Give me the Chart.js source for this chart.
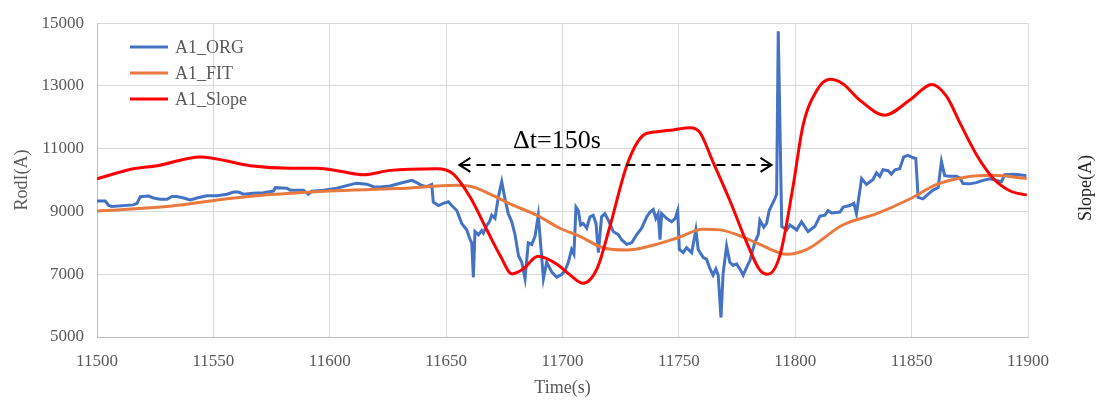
<!DOCTYPE html>
<html>
<head>
<meta charset="utf-8">
<script src="https://cdn.jsdelivr.net/npm/chart.js@4.4.1/dist/chart.umd.min.js"></script>
<style>
  html, body { margin: 0; padding: 0; background: #fff; }
  #wrap { width: 1104px; height: 405px; position: relative; }
</style>
</head>
<body>
<div id="wrap"><canvas id="chart"></canvas></div>
<script>
// A1_ORG (raw current)
const orgTime = [
  11500, 11503.6, 11505, 11506.4, 11515.6, 11517.2, 11518.6, 11522.2, 11524.3, 11527.2,
  11530.1, 11532.2, 11534.3, 11537.2, 11540.1, 11542.9, 11547.2, 11551.5, 11555.8, 11558.7,
  11560.8, 11562.9, 11567.2, 11571.5, 11575.8, 11576.6, 11581.6, 11583, 11588.7, 11590.8,
  11592.3, 11597.3, 11603, 11610.2, 11611.6, 11615.9, 11618.8, 11621.6, 11625.9, 11630.2,
  11635.3, 11637.4, 11639.5, 11641.7, 11643.8, 11644.5, 11646.7, 11648.8, 11651, 11652.4,
  11654.6, 11656.7, 11658.9, 11660.3, 11661, 11661.7, 11662.4, 11663.9, 11665.3, 11666,
  11667.5, 11668.6, 11669.6, 11671, 11672.4, 11673.9, 11675.3, 11676.7, 11678.2, 11679.6,
  11681.1, 11682.5, 11683.9, 11685.3, 11686.8, 11688.2, 11689.6, 11690.8, 11691.8, 11693.2,
  11695.4, 11697.5, 11699.7, 11701.1, 11702.5, 11703.9, 11704.9, 11705.8, 11706.8, 11707.8,
  11708.9, 11710.4, 11711.8, 11713.2, 11714.4, 11715.4, 11716.8, 11718.2, 11719.7, 11721.8,
  11724, 11725.4, 11727.6, 11729.7, 11731.9, 11734, 11736.2, 11737.6, 11739, 11740.1,
  11741.1, 11741.9, 11742.6, 11744.7, 11746.9, 11748.4, 11749.5, 11750.2, 11751.9, 11753.3,
  11755.5, 11757.3, 11758.3, 11760.5, 11761.9, 11763.4, 11764.7, 11765.9, 11766.9, 11768.1,
  11769, 11770.5, 11771.9, 11773.3, 11774.8, 11776.2, 11777.6, 11779.1, 11780.5, 11782.6,
  11784.1, 11784.8, 11786.5, 11787.7, 11788.8, 11791.2, 11792, 11792.7, 11794.2, 11796.3,
  11797.7, 11800.6, 11802.7, 11805.5, 11808.4, 11810.6, 11812.7, 11814.1, 11815.6, 11819.2,
  11820.6, 11823.5, 11825.2, 11826.3, 11828.5, 11830.6, 11833.4, 11834.9, 11836.3, 11837.7,
  11839.9, 11841.3, 11842.8, 11844.9, 11846.6, 11848.5, 11850.6, 11851.8, 11852.8, 11854.9,
  11857.1, 11859.2, 11861.4, 11862.8, 11864.2, 11866.4, 11869.3, 11870.7, 11872.1, 11875,
  11877.8, 11880.7, 11883.6, 11886.4, 11888.6, 11890, 11893.6, 11896.5, 11899.3
];
const orgValue = [
  9330, 9330, 9190, 9160, 9210, 9260, 9470, 9490, 9430, 9390,
  9390, 9480, 9480, 9430, 9370, 9430, 9500, 9500, 9550, 9620,
  9620, 9550, 9580, 9600, 9650, 9760, 9740, 9680, 9680, 9550,
  9650, 9680, 9740, 9880, 9900, 9870, 9790, 9780, 9810, 9900,
  9990, 9920, 9830, 9790, 9860, 9300, 9190, 9260, 9310, 9190,
  9030, 8620, 8410, 8100, 8000, 6900, 8360, 8260, 8390, 8310,
  8570, 8670, 8880, 8780, 9450, 9950, 9400, 8930, 8670, 8260,
  7590, 7380, 6860, 8000, 7950, 8210, 8880, 7790, 6860, 7380,
  7070, 6910, 6990, 7120, 7380, 7790, 7640, 9140, 9030, 8570,
  8620, 8470, 8830, 8880, 8620, 7690, 8830, 8930, 8720, 8360,
  8260, 8100, 7950, 8000, 8260, 8470, 8830, 8980, 9060, 8780,
  8930, 8100, 8930, 8780, 8670, 8780, 9030, 7790, 7690, 7850,
  7690, 8410, 7790, 7530, 7480, 7170, 6970, 7170, 6970, 5620,
  7020, 7900, 7380, 7280, 7330, 7170, 6970, 7220, 7430, 8000,
  8260, 8720, 8500, 8620, 9030, 9400, 9550, 14740, 8520, 8410,
  8570, 8410, 8670, 8360, 8520, 8850, 8880, 9030, 8950, 8980,
  9140, 9190, 9260, 8930, 10050, 9860, 10020, 10230, 10120, 10330,
  10300, 10190, 10330, 10360, 10740, 10790, 10710, 10690, 9450, 9400,
  9550, 9680, 9760, 10590, 10140, 10120, 10120, 10070, 9890, 9880,
  9920, 9990, 10040, 9990, 9950, 10170, 10190, 10170, 10140
];

// A1_FIT
const fitTime = [
  11500, 11530, 11549.5, 11573, 11599.7, 11628.9, 11654.7, 11661.6, 11668.9, 11677.5,
  11689, 11698.9, 11707.5, 11717.4, 11727.7, 11737.6, 11749.2, 11760.3, 11767.6, 11776.2,
  11784.8, 11796.4, 11805, 11820.4, 11835, 11849.2, 11860.8, 11873.7, 11884.9, 11899.5
];
const fitValue = [
  9015, 9158, 9344, 9530, 9655, 9729, 9832, 9780, 9552, 9242,
  8879, 8466, 8208, 7845, 7774, 7898, 8156, 8435, 8414, 8227,
  7950, 7637, 7792, 8570, 8932, 9397, 9863, 10102, 10152, 10049
];

// A1_Slope
const slopeTime = [
  11500, 11515.6, 11525.9, 11544.4, 11565.8, 11583, 11594.6, 11604.5, 11614.4, 11626,
  11646, 11653, 11660.3, 11667.6, 11673.2, 11678.3, 11683, 11689.5, 11697.6, 11703.2,
  11708.8, 11714.8, 11720.4, 11727.7, 11734.6, 11740.6, 11747.4, 11754.7, 11759, 11764.6,
  11771.9, 11779.2, 11784.8, 11788.2, 11793.4, 11799, 11803.3, 11809.3, 11814.9, 11820.4,
  11827.7, 11838.5, 11849.2, 11858.7, 11865.1, 11870.7, 11878, 11884.9, 11892.2, 11899.5
];
const slopeValue = [
  10040, 10360, 10460, 10740, 10460, 10380, 10380, 10280, 10170, 10310,
  10360, 10200, 9460, 8400, 7600, 7010, 7160, 7570, 7320, 6980,
  6710, 7170, 8530, 10480, 11420, 11540, 11600, 11670, 11520, 10590,
  9350, 8000, 7130, 7000, 7600, 9770, 11730, 12860, 13210, 13070,
  12550, 12070, 12550, 13050, 12660, 11830, 10790, 10070, 9660, 9520
];

const seriesNames = ["A1_ORG", "A1_FIT", "A1_Slope"];

// delta-t annotation (data units)
const arrowStart = 11655.7;
const arrowEnd = 11789.8;
const arrowLevel = 10484;
const deltaLabel = "\u0394t=150s";
const deltaLabelTime = 11697.6;
const deltaLabelLevel = 11229;

const toPoints = (ts, vs) => ts.map((t, i) => ({ x: t, y: vs[i] }));

const serif = "'Liberation Serif', 'Times New Roman', serif";
const tickGrey = "#595959";

const overlay = {
  id: "overlay",
  afterDatasetsDraw(chart) {
    const { ctx, chartArea, scales } = chart;
    const xs = scales.x;
    const ys = scales.y;
    ctx.save();

    // dashed double arrow
    const x1 = xs.getPixelForValue(arrowStart);
    const x2 = xs.getPixelForValue(arrowEnd);
    const ya = ys.getPixelForValue(arrowLevel);
    ctx.strokeStyle = "#000";
    ctx.lineWidth = 2;
    ctx.setLineDash([9, 6]);
    ctx.beginPath();
    ctx.moveTo(x1 + 2, ya);
    ctx.lineTo(x2 - 2, ya);
    ctx.stroke();
    ctx.setLineDash([]);
    ctx.beginPath();
    ctx.moveTo(x1 + 11, ya - 7);
    ctx.lineTo(x1, ya);
    ctx.lineTo(x1 + 11, ya + 7);
    ctx.moveTo(x2 - 11, ya - 7);
    ctx.lineTo(x2, ya);
    ctx.lineTo(x2 - 11, ya + 7);
    ctx.stroke();

    ctx.fillStyle = "#000";
    ctx.font = "26px " + serif;
    ctx.textAlign = "center";
    ctx.textBaseline = "middle";
    ctx.fillText(deltaLabel, xs.getPixelForValue(deltaLabelTime), ys.getPixelForValue(deltaLabelLevel));

    // legend
    ctx.font = "18px " + serif;
    ctx.textAlign = "left";
    chart.data.datasets.forEach((ds, i) => {
      const ly = 47 + i * 26;
      ctx.strokeStyle = ds.borderColor;
      ctx.lineWidth = 3;
      ctx.beginPath();
      ctx.moveTo(130, ly);
      ctx.lineTo(168, ly);
      ctx.stroke();
      ctx.fillStyle = tickGrey;
      ctx.fillText(ds.label, 175, ly + 1);
    });

    // axis titles
    ctx.font = "18px " + serif;
    ctx.textAlign = "center";
    ctx.fillStyle = tickGrey;
    ctx.fillText("Time(s)", (chartArea.left + chartArea.right) / 2, 388);
    ctx.save();
    ctx.translate(22, (chartArea.top + chartArea.bottom) / 2);
    ctx.rotate(-Math.PI / 2);
    ctx.fillText("RodI(A)", 0, 0);
    ctx.restore();
    ctx.save();
    ctx.fillStyle = "#222";
    ctx.translate(1086, 188);
    ctx.rotate(-Math.PI / 2);
    ctx.fillText("Slope(A)", 0, 0);
    ctx.restore();

    ctx.restore();
  },
};

new Chart(document.getElementById("chart"), {
  type: "line",
  data: {
    datasets: [
      {
        label: seriesNames[0],
        data: toPoints(orgTime, orgValue),
        borderColor: "#4472C4",
        borderWidth: 3,
        tension: 0,
        pointRadius: 0,
        order: 2,
      },
      {
        label: seriesNames[1],
        data: toPoints(fitTime, fitValue),
        borderColor: "#E97A3F",
        borderWidth: 3,
        cubicInterpolationMode: "monotone",
        pointRadius: 0,
        order: 1,
      },
      {
        label: seriesNames[2],
        data: toPoints(slopeTime, slopeValue),
        borderColor: "#FF0000",
        borderWidth: 3,
        cubicInterpolationMode: "monotone",
        pointRadius: 0,
        order: 0,
      },
    ],
  },
  options: {
    responsive: true,
    maintainAspectRatio: false,
    animation: false,
    devicePixelRatio: 1,
    layout: {
      padding: { left: 0, right: 76, top: 14, bottom: 0 },
    },
    plugins: {
      legend: { display: false },
      tooltip: { enabled: false },
    },
    scales: {
      x: {
        type: "linear",
        min: 11500,
        max: 11900,
        ticks: {
          stepSize: 50,
          color: tickGrey,
          padding: 14,
          font: { family: serif, size: 17 },
          callback: (v) => String(v),
        },
        grid: { color: "#d9d9d9", drawTicks: false },
        border: { color: "#bfbfbf" },
        afterFit(scale) { scale.height = 68; },
      },
      y: {
        min: 5000,
        max: 15000,
        ticks: {
          stepSize: 2000,
          color: tickGrey,
          padding: 13,
          font: { family: serif, size: 17 },
          callback: (v) => String(v),
        },
        grid: { color: "#d9d9d9", drawTicks: false },
        border: { color: "#bfbfbf" },
        afterFit(scale) { scale.width = 97; },
      },
    },
  },
  plugins: [overlay],
});
</script>
</body>
</html>
